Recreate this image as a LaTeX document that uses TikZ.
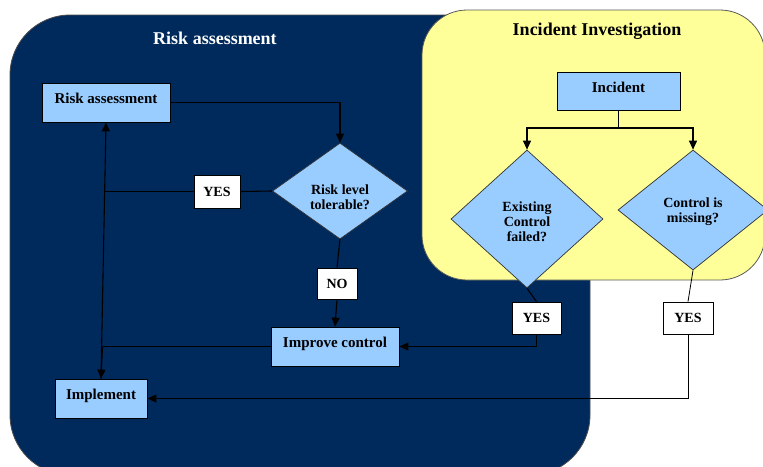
\documentclass[tikz,border=0pt]{standalone}
\usepackage{fontspec}
\setmainfont{Liberation Serif}
\usetikzlibrary{shapes.geometric,arrows.meta}
\definecolor{navy}{RGB}{0,42,92}
\definecolor{paleblue}{RGB}{153,204,255}
\definecolor{paleyellow}{RGB}{255,255,153}
\tikzset{
  stepbox/.style={rectangle, fill=paleblue, draw=black, line width=0.8pt,
    inner sep=0pt, font=\bfseries\fontsize{15}{17}\selectfont,
    text height=11pt, text depth=9pt},
  answer/.style={rectangle, fill=white, draw=black, line width=0.8pt,
    inner sep=0pt, font=\bfseries\fontsize{14}{16}\selectfont},
  decision/.style={diamond, fill=paleblue, draw=black!80, line width=0.7pt,
    inner sep=0pt},
  question/.style={align=center, inner sep=0pt,
    font=\bfseries\fontsize{14}{15}\selectfont},
  link/.style={draw=black, line width=1.1pt},
  arr/.style={link, -{Triangle[length=9pt,width=8pt]}},
  heading/.style={font=\bfseries\fontsize{18}{20}\selectfont}
}
\begin{document}
\begin{tikzpicture}[x=1pt,y=-1pt]
\useasboundingbox (0,0) rectangle (763,466);
\begin{scope}
\clip (0,0) rectangle (763,466);
% panels
\draw[fill=navy, draw=gray!60!black, line width=0.8pt, rounded corners=60pt]
  (10,15) rectangle (590,475);
\draw[fill=paleyellow, draw=gray!70!black, line width=0.8pt, rounded corners=45pt]
  (422,10) rectangle (765,280);
\node[heading, text=white] (titleA) at (215,38) {Risk assessment};
\node[heading, text=black] (titleB) at (597,31) {Incident Investigation};

% risk assessment loop
\node[stepbox, minimum width=128pt, minimum height=39pt] (risk) at (106,102.5) {Risk assessment};
\node[decision, minimum width=135pt, minimum height=96pt] (tol) at (340,191) {};
\node[question] (tolq) at (340,197) {Risk level\\tolerable?};
\node[answer, minimum width=46pt, minimum height=33pt] (yesA) at (217,191.5) {YES};
\node[answer, minimum width=40pt, minimum height=31pt] (noA) at (337,283.5) {NO};
\node[stepbox, minimum width=128pt, minimum height=39pt] (impr) at (335,346.5) {Improve control};
\node[stepbox, minimum width=92pt, minimum height=39pt] (impl) at (101,398.5) {Implement};

% incident investigation
\node[stepbox, minimum width=123pt, minimum height=38pt] (inc) at (618.5,91) {Incident};
\node[decision, minimum width=152pt, minimum height=138pt] (fail) at (527,219) {};
\node[question] (failq) at (527,222) {Existing\\Control\\failed?};
\node[decision, minimum width=150pt, minimum height=120pt] (miss) at (693,210) {};
\node[question] (missq) at (693,212) {Control is\\missing?};
\node[answer, minimum width=49pt, minimum height=32pt] (yesB) at (536.5,318) {YES};
\node[answer, minimum width=50pt, minimum height=32pt] (yesC) at (688,318) {YES};

% junction points
\coordinate (jy) at (105,191.5);
\coordinate (jc) at (102.5,346.5);
\coordinate (split) at (618.5,128);

% connectors
\draw[arr] (risk.east) -| (tol.north);
\draw[link] (tol.west) -- (yesA.east);
\draw[link] (yesA.west) -- (jy);
\draw[arr] (impl.north) -- (risk.south);
\draw[link] (impr.west) -- (jc);
\draw[arr] (jc) -- (impl.north);
\draw[link] (tol.south) -- (noA.north);
\draw[arr] (noA.south) -- (impr.north);

\draw[link] (inc.south) -- (split);
\draw[arr] (split) -| (fail.north);
\draw[arr] (split) -| (miss.north);
\draw[link] (fail.south) -- (yesB.north);
\draw[arr] (yesB.south) |- (impr.east);
\draw[link, line width=0.8pt] (miss.south) -- (yesC.north);
\draw[arr, line width=0.9pt] (yesC.south) |- (impl.east);
\end{scope}
\end{tikzpicture}
\end{document}
